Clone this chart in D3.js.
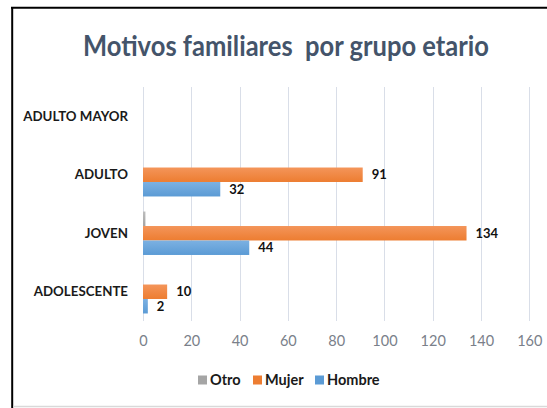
<!DOCTYPE html>
<html>
<head>
<meta charset="utf-8">
<script src="https://cdn.jsdelivr.net/npm/d3@7"></script>
<style>
  body { margin: 0; background: #fff; }
  svg { display: block; }
  text { font-family: Lato, "DejaVu Sans Condensed", sans-serif; }
</style>
</head>
<body>
<div id="chart"></div>
<script>
// categories, top to bottom
var grupos = ["ADULTO MAYOR", "ADULTO", "JOVEN", "ADOLESCENTE"]
var series = ["Otro", "Mujer", "Hombre"]
var otro   = [0, 0, 1, 0]
var mujer  = [0, 91, 134, 10]
var hombre = [0, 32, 44, 2]
var xTicks = [0, 20, 40, 60, 80, 100, 120, 140, 160]

var colors = {Otro: "#a5a5a5", Mujer: "#ed7d31", Hombre: "#5b9bd5"}
var light  = {Otro: "#bdbdbd", Mujer: "#f4955a", Hombre: "#7cb1e2"}

var data = grupos.map(function(g, i) {
  return {grupo: g, Otro: otro[i], Mujer: mujer[i], Hombre: hombre[i]}
})

var W = 547, H = 408
var margin = {top: 87, right: 18, bottom: 87, left: 143},
  width = W - margin.left - margin.right,
  height = H - margin.top - margin.bottom

var svg = d3.select("#chart").append("svg")
  .attr("width", W)
  .attr("height", H)

// gradients for the bars (Excel-like)
var defs = svg.append("defs")
series.forEach(function(s) {
  var gr = defs.append("linearGradient")
    .attr("id", "grad-" + s)
    .attr("x1", 0).attr("y1", 0).attr("x2", 0).attr("y2", 1)
  gr.append("stop").attr("offset", "0%").attr("stop-color", light[s])
  gr.append("stop").attr("offset", "100%").attr("stop-color", colors[s])
})

// frame
svg.append("line").attr("x1", 12.2).attr("x2", 12.2).attr("y1", 7).attr("y2", H)
  .attr("stroke", "#000").attr("stroke-width", 2)
svg.append("line").attr("x1", 11).attr("x2", W).attr("y1", 7.8).attr("y2", 7.8)
  .attr("stroke", "#000").attr("stroke-width", 2)
svg.append("line").attr("x1", 13).attr("x2", W).attr("y1", 406.5).attr("y2", 406.5)
  .attr("stroke", "#d9d9d9").attr("stroke-width", 1.5)

// title
svg.append("text")
  .attr("x", 286)
  .attr("y", 56)
  .attr("text-anchor", "middle")
  .style("font-size", "28px")
  .style("font-weight", "bold")
  .style("fill", "#44546a")
  .style("white-space", "pre")
  .attr("textLength", 406)
  .attr("lengthAdjust", "spacingAndGlyphs")
  .text("Motivos familiares  por grupo etario")

var g = svg.append("g")
  .attr("transform", "translate(" + margin.left + "," + margin.top + ")")

var x = d3.scaleLinear()
  .domain([0, 160])
  .range([0, 386.3])

var y = d3.scaleBand()
  .domain(grupos)
  .range([0, height])

var y1 = d3.scaleBand()
  .domain(series)
  .range([0, y.bandwidth()])
  .paddingOuter(0.52)

// gridlines
g.append("g")
  .selectAll("line")
  .data(xTicks)
  .enter().append("line")
  .attr("x1", function(d) { return Math.round(x(d)) + 0.5 })
  .attr("x2", function(d) { return Math.round(x(d)) + 0.5 })
  .attr("y1", 0)
  .attr("y2", height)
  .attr("stroke", "#d9dee8")
  .attr("stroke-width", 1)

// x axis labels
var xAxis = g.append("g")
  .attr("transform", "translate(0," + height + ")")
  .call(d3.axisBottom(x).tickValues(xTicks).tickSize(0).tickPadding(15))
xAxis.select(".domain").remove()
xAxis.selectAll("text")
  .style("font-family", "Lato, sans-serif")
  .style("font-size", "14.5px")
  .style("fill", "#7a7f8a")

// y axis labels
var yAxis = g.append("g")
  .call(d3.axisLeft(y).tickSize(0).tickPadding(15))
yAxis.select(".domain").remove()
yAxis.selectAll("text")
  .style("font-family", "Lato, sans-serif")
  .style("font-size", "13.3px")
  .style("font-weight", "bold")
  .style("fill", "#1a1a1a")

// bars
var groups = g.selectAll(".grp")
  .data(data)
  .enter().append("g")
  .attr("class", "grp")
  .attr("transform", function(d) { return "translate(0," + y(d.grupo) + ")" })

groups.selectAll("rect")
  .data(function(d) { return series.map(function(s) { return {key: s, value: d[s]} }) })
  .enter().append("rect")
  .filter(function(d) { return d.value > 0 })
  .attr("x", x(0))
  .attr("y", function(d) { return y1(d.key) })
  .attr("width", function(d) { return x(d.value) - x(0) })
  .attr("height", y1.bandwidth())
  .attr("fill", function(d) { return "url(#grad-" + d.key + ")" })

// value labels (not for Otro)
groups.selectAll(".lbl")
  .data(function(d) { return series.map(function(s) { return {key: s, value: d[s]} }) })
  .enter().append("text")
  .filter(function(d) { return d.value > 0 && d.key != "Otro" })
  .attr("class", "lbl")
  .attr("x", function(d) { return x(d.value) + 9 })
  .attr("y", function(d) { return y1(d.key) + y1.bandwidth() / 2 })
  .attr("dy", "0.35em")
  .style("font-size", "13px")
  .style("font-weight", "bold")
  .style("fill", "#111")
  .text(function(d) { return d.value })

// legend
var legX = [198, 253, 315]
var legend = svg.append("g")
  .attr("transform", "translate(0,380)")
series.forEach(function(s, i) {
  legend.append("rect")
    .attr("x", legX[i])
    .attr("y", -4.5)
    .attr("width", 9)
    .attr("height", 9)
    .attr("fill", colors[s])
  legend.append("text")
    .attr("x", legX[i] + 12)
    .attr("y", 0)
    .attr("dy", "0.35em")
    .style("font-size", "14.5px")
    .style("font-weight", "bold")
    .style("fill", "#1a1a1a")
    .text(s)
})
</script>
</body>
</html>
